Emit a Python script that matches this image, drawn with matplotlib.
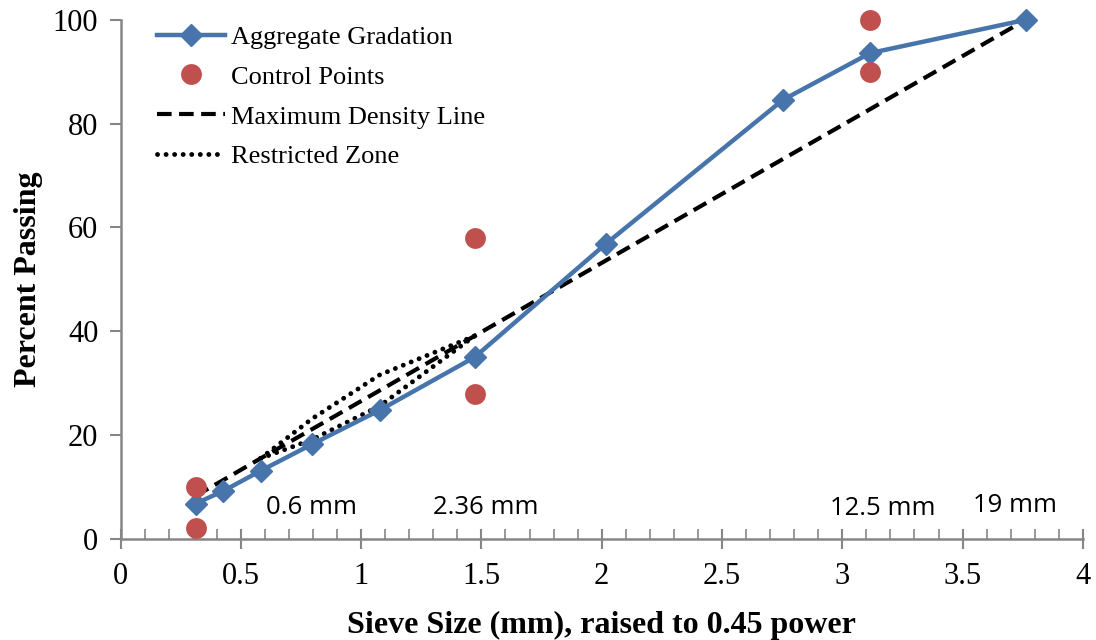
import numpy as np
import matplotlib
matplotlib.use("Agg")
from matplotlib import pyplot as plt
from matplotlib.ticker import MultipleLocator

# sieve sizes (mm) and percent passing
sieves = [0.075, 0.15, 0.3, 0.6, 1.18, 2.36, 4.75, 9.5, 12.5, 19]
gradation = [6.8, 9.2, 13.1, 18.2, 24.8, 35.0, 56.8, 84.6, 93.6, 100]

# control points (12.5 mm NMAS)
ctrl_sieves = [0.075, 0.075, 2.36, 2.36, 12.5, 12.5]
ctrl_pass = [2, 10, 28, 58, 90, 100]

# maximum density line
mdl_pass = [8.3, 11.3, 15.5, 21.1, 28.6, 39.1, 53.6, 73.2, 82.8, 100]

# restricted zone
rz_sieves = [0.3, 0.6, 1.18, 2.36]
rz_lower = [15.5, 19.1, 25.6, 39.1]
rz_upper = [15.5, 23.1, 31.6, 39.1]

# sieve labels
lbl_text = ["0.6 mm", "2.36 mm", "12.5 mm", "19 mm"]
lbl_x = [0.795, 1.52, 3.17, 3.72]
lbl_y = [6.0, 6.0, 5.8, 6.5]

p = 0.45
x = np.array(sieves) ** p

plt.rcParams['font.family'] = ['Liberation Serif', 'DejaVu Serif']
fig = plt.figure(figsize=(10.96, 6.4), dpi=100)
ax = fig.add_axes([0.110, 0.158, 0.878, 0.811])

dots = (0, (0.01, 1.75))
ax.plot(x, mdl_pass, color='black', lw=3, ls=(0, (3.5, 1.8)), label='Maximum Density Line',
        zorder=2, clip_on=False)
ax.plot(np.array(rz_sieves) ** p, rz_upper, color='black', lw=3.5, ls=dots,
        dash_capstyle='round', label='Restricted Zone', zorder=2)
ax.plot(np.array(rz_sieves) ** p, rz_lower, color='black', lw=3.5, ls=dots,
        dash_capstyle='round', zorder=2)
ax.plot(x, gradation, color='#4674ab', lw=3.2, marker='D', ms=11, mec='#4674ab',
        label='Aggregate Gradation', zorder=3, clip_on=False)
ax.plot(np.array(ctrl_sieves) ** p, ctrl_pass, 'o', color='#c0504d', ms=15, mec='none',
        label='Control Points', zorder=4, clip_on=False)

for t, xx, yy in zip(lbl_text, lbl_x, lbl_y):
    ax.text(xx, yy, t, ha='center', va='center', fontsize=18.5,
            family=['Open Sans', 'DejaVu Sans'])

ax.set_xlim(0, 4)
ax.set_ylim(0, 100)
ax.xaxis.set_minor_locator(MultipleLocator(0.1))
ax.yaxis.set_major_locator(MultipleLocator(20))
ax.set_xticks([0, 0.5, 1, 1.5, 2, 2.5, 3, 3.5, 4])
ax.set_xticklabels(['0', '0.5', '1', '1.5', '2', '2.5', '3', '3.5', '4'])

for side in ['top', 'right']:
    ax.spines[side].set_visible(False)
for side in ['left', 'bottom']:
    ax.spines[side].set_color('#868686')
    ax.spines[side].set_linewidth(1.8)

ax.tick_params(axis='x', which='major', direction='inout', length=14, width=1.5,
               color='#868686', labelsize=22, pad=10)
ax.tick_params(axis='x', which='minor', direction='in', length=7, width=1.2, color='#868686')
ax.tick_params(axis='y', which='major', direction='out', length=8, width=1.5,
               color='#868686', labelsize=22, pad=8)

ax.set_xlabel('Sieve Size (mm), raised to 0.45 power', fontsize=23, fontweight='bold', labelpad=14)
ax.set_ylabel('Percent Passing', fontsize=23, fontweight='bold', labelpad=7)

h, l = ax.get_legend_handles_labels()
order = [2, 3, 0, 1]
ax.legend([h[i] for i in order], [l[i] for i in order], loc='upper left',
          bbox_to_anchor=(0.013, 1.035), frameon=False, fontsize=19, handlelength=2.6,
          handletextpad=0.2, labelspacing=0.62)

plt.savefig('out.png', dpi=100)
